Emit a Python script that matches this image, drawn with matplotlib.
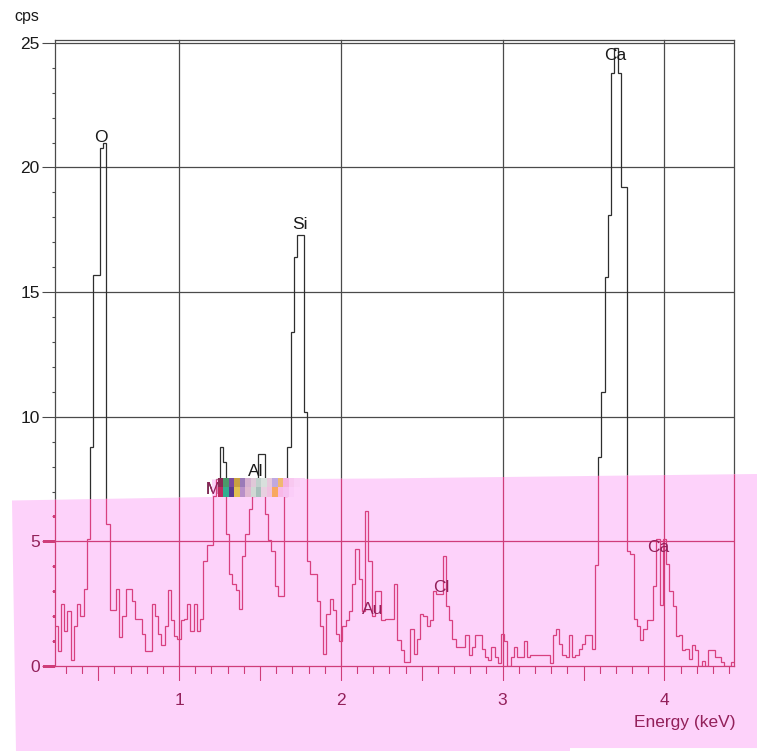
import matplotlib
matplotlib.use('Agg')
import matplotlib.pyplot as plt
import matplotlib.patches as mpatches
from matplotlib.colors import to_rgb
from matplotlib.text import Text
import numpy as np

plt.rcParams['font.family'] = ['Liberation Sans', 'DejaVu Sans']

# EDS spectrum, 20 eV channels from 0.23 keV
E_START = 0.23
CHANNEL_KEV = 0.02
counts = [
    1.6, 0.6, 2.5, 1.4, 2.2, 0.25, 1.6, 2.5, 2.0, 3.1,
    5.1, 8.8, 15.7, 15.7, 20.8, 21.0, 5.7, 2.25, 2.25, 3.1,
    1.16, 2.0, 3.1, 3.1, 2.6, 1.9, 1.9, 1.3, 0.6, 0.6,
    2.5, 2.0, 1.3, 0.85, 1.6, 3.05, 1.85, 1.2, 1.1, 1.85,
    1.9, 2.5, 1.4, 2.5, 1.4, 1.9, 4.2, 4.85, 4.85, 6.8,
    7.5, 8.8, 8.2, 5.3, 3.7, 3.3, 3.05, 2.3, 4.4, 5.3,
    6.3, 6.8, 7.5, 8.5, 8.5, 6.1, 5.05, 4.6, 3.2, 2.8,
    2.8, 6.8, 8.8, 13.4, 16.4, 17.3, 17.3, 10.2, 4.2, 3.7,
    3.7, 2.6, 1.6, 0.5, 2.1, 2.7, 2.25, 1.3, 1.0, 1.6,
    1.85, 2.2, 3.3, 4.7, 3.5, 2.2, 6.2, 4.2, 2.0, 3.0,
    3.0, 1.85, 1.9, 1.9, 1.9, 3.3, 1.05, 0.65, 0.17, 0.17,
    1.5, 0.5, 1.1, 2.1, 2.0, 1.6, 1.85, 3.0, 2.9, 2.9,
    4.4, 2.4, 1.85, 1.1, 0.78, 0.78, 0.78, 1.25, 0.45, 0.78,
    1.25, 1.25, 0.7, 0.37, 0.25, 0.78, 0.37, 0.1, 1.3, 1.0,
    0.0, 0.37, 0.78, 0.37, 0.37, 1.0, 0.37, 0.45, 0.45, 0.45,
    0.45, 0.45, 0.45, 0.1, 1.25, 1.5, 0.9, 0.45, 0.37, 1.25,
    0.37, 0.45, 0.7, 0.9, 1.25, 1.25, 0.7, 4.05, 8.4, 11.0,
    15.6, 18.1, 23.8, 24.8, 23.8, 19.2, 19.2, 4.6, 4.5, 1.9,
    1.6, 1.05, 1.5, 1.85, 1.85, 3.2, 5.1, 2.45, 5.1, 4.1,
    3.0, 2.4, 1.2, 1.25, 0.65, 0.7, 0.3, 0.85, 0.65, 0.0,
    0.2, 0.0, 0.65, 0.65, 0.37, 0.37, 0.17, 0.0, 0.0, 0.17,
]
edges = E_START + CHANNEL_KEV * np.arange(len(counts) + 1)

peak_labels = ['O', 'Si', 'Ca', 'Al', 'M', 'Au', 'Cl', 'Ca']
peak_energy = [0.518, 1.748, 3.696, 1.476, 1.207, 2.197, 2.62, 3.962]
peak_label_cps = [21.2, 17.7, 24.5, 7.8, 7.1, 2.25, 3.13, 4.77]

y_ticks = [0, 5, 10, 15, 20, 25]
x_ticks = [1, 2, 3, 4]
x_tick_labels = ['1', '2', '3', '4']

# garbled label strip next to the Mg marker
strip_top = ['#8a2a55', '#4a9a6a', '#7a4aa0', '#c8a040', '#9a7ab8', '#d6b0d0',
             '#e0c8d8', '#c0d0cc', '#d8e0dc', '#e8c8dc', '#c0a8e0', '#f0b870',
             '#f4b0e0', '#f8c8f0', '#fad0f6', '#fdd2fa']
strip_bot = ['#c02a60', '#30b090', '#5a3a90', '#e0c050', '#b890c8', '#e0b8d0',
             '#d0d8d4', '#a8c0bc', '#e8d0e0', '#f0c0e0', '#f8a860', '#f8b8e8',
             '#f6c0f0', '#fbcdf8', '#fdd2fa', '#fdd2fa']

PINK = '#fdd2fa'
AX_RECT = [0.0720, 0.1132, 0.8976, 0.8331]
X_MAX = 4.43
Y_MAX = 25.1


def draw_layer(ax, line_color, grid_color, text_color):
    ax.set_facecolor('none')
    ax.stairs(counts, edges, baseline=None, color=line_color, lw=0.9, zorder=3)
    for v in y_ticks[1:]:
        ax.axhline(v, color=grid_color, lw=0.9, zorder=1)
    for v in x_ticks:
        ax.axvline(v, ymin=-0.034, ymax=1, color=grid_color, lw=0.9,
                   clip_on=False, zorder=1)
    ax.set_xlim(E_START, X_MAX)
    ax.set_ylim(0, Y_MAX)

    ax.set_yticks(y_ticks)
    ax.set_yticks(np.arange(0, 26), minor=True)
    half = np.arange(0.5, 4.01, 0.5)
    ax.set_xticks(half, [lab if v in x_ticks else '' for v, lab in
                         zip(half, [str(int(h)) if h == int(h) else '' for h in half])])
    ax.set_xticks(np.arange(0.3, 4.41, 0.1), minor=True)

    ax.tick_params(axis='y', which='major', direction='out', length=9.1,
                   width=0.8, pad=1.5, labelsize=12.5, color=grid_color,
                   labelcolor=text_color)
    ax.tick_params(axis='y', which='minor', direction='out', length=2.5,
                   width=0.8, color=grid_color)
    ax.tick_params(axis='x', which='major', direction='out', length=10,
                   width=0.8, pad=9.4, labelsize=12.5, color=grid_color,
                   labelcolor=text_color)
    ax.tick_params(axis='x', which='minor', direction='out', length=4.8,
                   width=0.8, color=grid_color)
    for s in ax.spines.values():
        s.set_color(grid_color)
        s.set_linewidth(0.9)

    for lab, e, c in zip(peak_labels, peak_energy, peak_label_cps):
        ax.text(e, c, lab, ha='center', va='center', fontsize=12.5,
                color=text_color, zorder=4)


fig = plt.figure(figsize=(7.57, 7.51), dpi=100)
fig.patch.set_facecolor('white')

# plain layer
ax_a = fig.add_axes(AX_RECT, zorder=0)
draw_layer(ax_a, '#2e2e2e', '#4a4a4a', '#1a1a1a')

# pink highlighter band over the lower part of the sheet
band = mpatches.Polygon(
    [(0.01585, 0.33356), (0.28005, 0.33822), (0.28005, 0.36152),
     (0.50198, 0.36285), (1.0, 0.36884), (1.0, 0.00399),
     (0.75297, 0.00399), (0.75297, 0.0), (0.02114, 0.0)],
    closed=True, transform=fig.transFigure, facecolor=PINK,
    edgecolor='none', zorder=1)
fig.add_artist(band)

# tinted layer, only visible inside the band
ax_b = fig.add_axes(AX_RECT, zorder=2)
draw_layer(ax_b, '#d8407f', '#cf3d7a', '#93205a')

fig.text(27 / 757, 1 - 16 / 751, 'cps', ha='center', va='center',
         fontsize=11.5, color='#1a1a1a')
fig.text(735 / 757, 1 - 722 / 751, 'Energy (keV)', ha='right', va='center',
         fontsize=12.5, color='#93205a', zorder=5)

strip_ax = fig.add_axes([218 / 757, 1 - 497 / 751, 87 / 757, 19 / 751], zorder=3)
strip_ax.imshow(np.array([[to_rgb(c) for c in strip_top],
                          [to_rgb(c) for c in strip_bot]]),
                aspect='auto', interpolation='nearest')
strip_ax.set_axis_off()

fig.canvas.draw()
for art in ax_b.findobj():
    if art is ax_b:
        continue
    if isinstance(art, Text):
        if art.get_text():
            bb = art.get_window_extent()
            cx, cy = (bb.x0 + bb.x1) / 2, (bb.y0 + bb.y1) / 2
            if not band.contains_point((cx, cy)):
                art.set_color('none')
        continue
    art.set_clip_on(True)
    art.set_clip_path(band)

fig.savefig('out.png', dpi=100)
